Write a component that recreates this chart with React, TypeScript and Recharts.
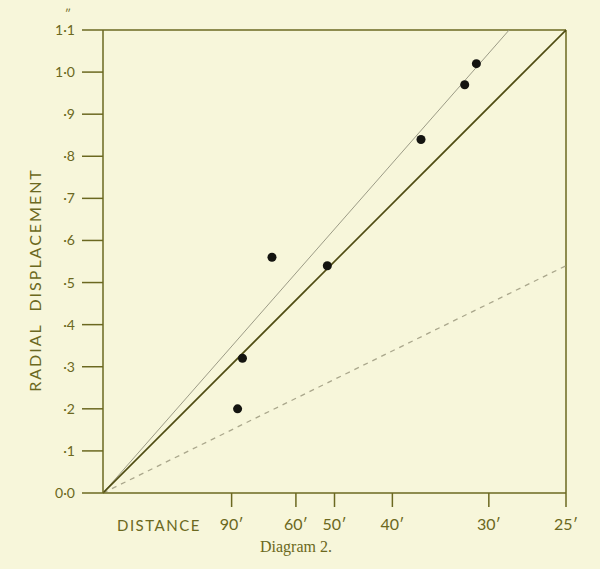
import React from 'react';
import {
  ComposedChart,
  Line,
  Scatter,
  XAxis,
  YAxis,
  ReferenceLine
} from 'recharts';

// distances are in feet; the x axis is 1 / distance
const tickDistances = [90, 60, 50, 40, 30, 25];
const yTicks = [0, 0.1, 0.2, 0.3, 0.4, 0.5, 0.6, 0.7, 0.8, 0.9, 1.0, 1.1];
const yTickLabels = ['0·0', '·1', '·2', '·3', '·4', '·5', '·6', '·7', '·8', '·9', '1·0', '1·1'];

const pointDistances = [86, 83, 68.5, 51.6, 36.4, 32, 31];
const pointDisplacements = [0.2, 0.32, 0.56, 0.54, 0.84, 0.97, 1.02];

// each line runs from the origin to [distance, displacement]
const solidLineEnd = [25, 1.1];
const thinLineEnd = [28.5, 1.1];
const dashedLineEnd = [25, 0.54];

const inv = (d: number) => 1 / d;
const lineFrom = (end: number[]) => [
  { x: 0, y: 0 },
  { x: inv(end[0]), y: end[1] }
];

const points = pointDistances.map((d, i) => ({ x: inv(d), y: pointDisplacements[i] }));

const INK = '#6b6820';
const PAPER = '#f7f6da';
const FONT = 'Lato, "Liberation Sans", sans-serif';

const XTick = (props: any) => {
  const { x, y, payload } = props;
  const d = Math.round(1 / payload.value);
  return (
    <text x={x} y={y + 21} textAnchor="middle" fill={INK} fontSize={16} fontFamily={FONT}>
      {d}′
    </text>
  );
};

const YTick = (props: any) => {
  const { x, y, index } = props;
  return (
    <g>
      <text x={x - 5} y={y} dy="0.36em" textAnchor="end" fill={INK} fontSize={14} fontFamily={FONT}>
        {yTickLabels[index]}
      </text>
      {index === yTicks.length - 1 && (
        <text x={x - 12} y={y - 12} textAnchor="middle" fill={INK} fontSize={12} fontFamily={FONT}>
          ″
        </text>
      )}
    </g>
  );
};

export default function App() {
  return (
    <div style={{ position: 'fixed', left: 0, top: 0, width: 600, height: 569, background: PAPER }}>
      <ComposedChart width={600} height={569} margin={{ top: 30, right: 34, bottom: 46, left: 0 }}>
        <XAxis
          type="number"
          dataKey="x"
          domain={[0, 0.04]}
          ticks={tickDistances.map(inv)}
          interval={0}
          allowDataOverflow
          height={30}
          tick={<XTick />}
          tickSize={14}
          stroke={INK}
          strokeWidth={1.5}
          tickLine={{ stroke: INK, strokeWidth: 1.5 }}
        />
        <YAxis
          type="number"
          dataKey="y"
          domain={[0, 1.1]}
          ticks={yTicks}
          width={103}
          tick={<YTick />}
          tickSize={21}
          stroke={INK}
          strokeWidth={1.5}
          tickLine={{ stroke: INK, strokeWidth: 1.5 }}
          interval={0}
        />
        <ReferenceLine y={1.1} stroke={INK} strokeWidth={1.5} />
        <ReferenceLine x={0.04} stroke={INK} strokeWidth={1.5} />
        <Line
          data={lineFrom(dashedLineEnd)}
          dataKey="y"
          stroke="#aaa78c"
          strokeWidth={1.3}
          strokeDasharray="5 5"
          dot={false}
          isAnimationActive={false}
        />
        <Line
          data={lineFrom(thinLineEnd)}
          dataKey="y"
          stroke="#9c9b86"
          strokeWidth={1}
          dot={false}
          isAnimationActive={false}
        />
        <Line
          data={lineFrom(solidLineEnd)}
          dataKey="y"
          stroke="#4f4c12"
          strokeWidth={1.7}
          dot={false}
          isAnimationActive={false}
        />
        <Scatter data={points} fill="#141410" shape="circle" isAnimationActive={false} />
      </ComposedChart>
      <div
        style={{
          position: 'absolute',
          left: 117,
          top: 516,
          color: INK,
          fontFamily: FONT,
          fontSize: 15,
          letterSpacing: 1.5
        }}
      >
        DISTANCE
      </div>
      <div
        style={{
          position: 'absolute',
          left: 34,
          top: 280,
          color: INK,
          fontFamily: FONT,
          fontSize: 16,
          letterSpacing: 2,
          whiteSpace: 'nowrap',
          transform: 'translate(-50%, -50%) rotate(-90deg)'
        }}
      >
        RADIAL&nbsp;&nbsp;DISPLACEMENT
      </div>
      <div
        style={{
          position: 'absolute',
          left: 260,
          top: 538,
          color: INK,
          fontFamily: '"Liberation Serif", "DejaVu Serif", serif',
          fontSize: 16
        }}
      >
        Diagram 2.
      </div>
    </div>
  );
}
